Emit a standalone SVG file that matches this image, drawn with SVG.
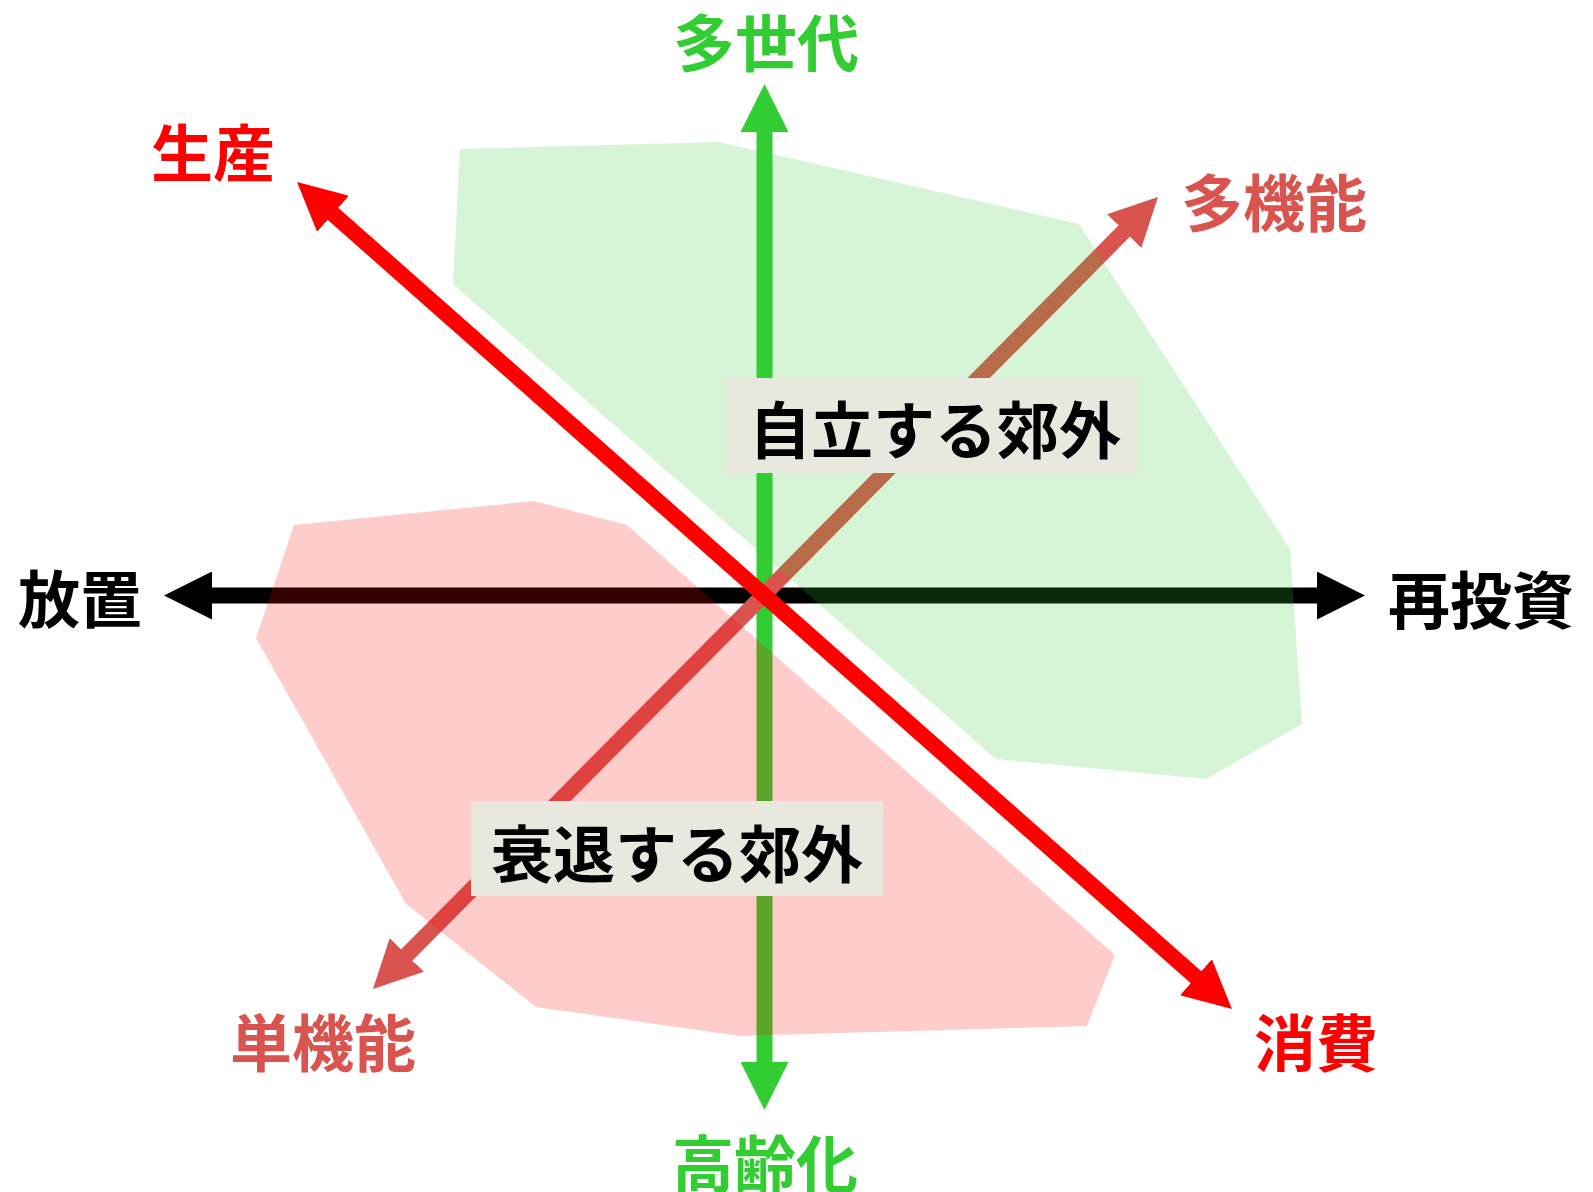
<svg xmlns="http://www.w3.org/2000/svg" width="1593" height="1192" viewBox="0 0 1593 1192">
<style>
.lbl{font-family:"Noto Sans CJK JP","Noto Sans CJK SC",sans-serif;font-weight:700;font-size:62px;text-anchor:middle;dominant-baseline:central}
.ax{fill:none;stroke-width:16;stroke-linecap:butt}
.box{fill:#e9e8de}
</style>
<defs>
<marker id="mk" markerUnits="userSpaceOnUse" markerWidth="48" markerHeight="48" refX="2" refY="24" orient="auto-start-reverse" viewBox="0 0 48 48"><path d="M0,0 L48,24 L0,48 z" fill="#000"/></marker>
<marker id="mg" markerUnits="userSpaceOnUse" markerWidth="48" markerHeight="48" refX="2" refY="24" orient="auto-start-reverse" viewBox="0 0 48 48"><path d="M0,0 L48,24 L0,48 z" fill="#32cd32"/></marker>
<marker id="mo" markerUnits="userSpaceOnUse" markerWidth="48" markerHeight="48" refX="2" refY="24" orient="auto-start-reverse" viewBox="0 0 48 48"><path d="M0,0 L48,24 L0,48 z" fill="#d9534f"/></marker>
<marker id="mr" markerUnits="userSpaceOnUse" markerWidth="48" markerHeight="48" refX="2" refY="24" orient="auto-start-reverse" viewBox="0 0 48 48"><path d="M0,0 L48,24 L0,48 z" fill="#ff0000"/></marker>
</defs>
<g id="connectors">
<line id="axis-h" class="ax" x1="210" y1="595.5" x2="1319" y2="595.5" stroke="#000" marker-start="url(#mk)" marker-end="url(#mk)"/>
<line id="axis-v" class="ax" x1="764.5" y1="130" x2="764.5" y2="1064" stroke="#32cd32" marker-start="url(#mg)" marker-end="url(#mg)"/>
<line id="axis-d1" class="ax" x1="1125.6" y1="229.7" x2="405.4" y2="956.3" stroke="#d9534f" marker-start="url(#mo)" marker-end="url(#mo)"/>
</g>
<g id="regions">
<polygon id="region-green" points="460,149 719,142 1079,224 1290,549 1302,724 1206,779 996,759 453,284" fill="#32cd32" fill-opacity="0.2"/>
<polygon id="region-red" points="294,525 534,501 627,525 1115,955 1087,1026 740,1036 536,1007 406,904 256,638" fill="#ff0000" fill-opacity="0.2"/>
</g>
<g id="connectors-top">
<line id="axis-d2" class="ax" x1="331.5" y1="212.5" x2="1197.5" y2="978.5" stroke="#ff0000" marker-start="url(#mr)" marker-end="url(#mr)"/>
</g>
<g id="node-jiritsu">
<rect class="box" x="726" y="378" width="412" height="95"/>
<text class="lbl" x="935" y="427">自立する郊外</text>
</g>
<g id="node-suitai">
<rect class="box" x="471" y="801" width="412" height="95"/>
<text class="lbl" x="677" y="851">衰退する郊外</text>
</g>
<g id="label-tasedai"><text class="lbl" x="766" y="40" fill="#32cd32">多世代</text></g>
<g id="label-koureika"><text class="lbl" x="765" y="1161" fill="#32cd32">高齢化</text></g>
<g id="label-seisan"><text class="lbl" x="213" y="150" fill="#ff0000">生産</text></g>
<g id="label-shouhi"><text class="lbl" x="1316" y="1040" fill="#ff0000">消費</text></g>
<g id="label-takinou"><text class="lbl" x="1274" y="200" fill="#d9534f">多機能</text></g>
<g id="label-tankinou"><text class="lbl" x="323" y="1040" fill="#d9534f">単機能</text></g>
<g id="label-houchi"><text class="lbl" x="80" y="596" fill="#000">放置</text></g>
<g id="label-saitoushi"><text class="lbl" x="1481" y="597" fill="#000">再投資</text></g>
</svg>
